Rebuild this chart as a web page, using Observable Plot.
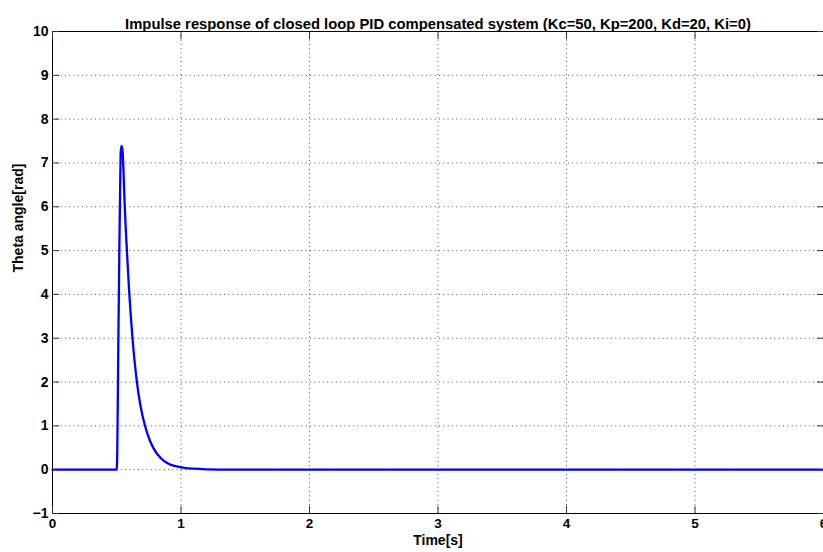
<!DOCTYPE html>
<html>
<head>
<meta charset="utf-8">
<script src="https://cdn.jsdelivr.net/npm/d3@7"></script>
<script src="https://cdn.jsdelivr.net/npm/@observablehq/plot@0.6"></script>
<style>
  html, body { margin: 0; padding: 0; background: #fff; }
  #chart { width: 823px; height: 552px; overflow: hidden; }
</style>
</head>
<body>
<div id="chart"></div>
<script>
const titleText = "Impulse response of closed loop PID compensated system (Kc=50, Kp=200, Kd=20, Ki=0)";
const xLabel = "Time[s]";
const yLabel = "Theta angle[rad]";
const xTicks = [0, 1, 2, 3, 4, 5, 6];
const yTicks = [-1, 0, 1, 2, 3, 4, 5, 6, 7, 8, 9, 10];

// time samples (s) and theta values (rad)
const time  = [0, 0.5, 0.515, 0.530, 0.537, 0.545, 0.552, 0.561, 0.570, 0.579, 0.595, 0.607, 0.621, 0.638, 0.657, 0.685, 0.722, 0.76, 0.79, 0.843, 0.9, 1.0, 1.1, 1.2, 1.4, 2.0, 3.0, 4.0, 5.0, 6.0];
const theta = [0, 0,   3.6,   7.2,   7.39,  7.28,  6.85,  6.1,   5.5,   5.0,   4.15,  3.6,   3.05,  2.5,   2.0,   1.45,  0.98,  0.65, 0.47, 0.26,  0.14, 0.055, 0.022, 0.009, 0.002, 0, 0, 0, 0, 0];

const data = time.map((t, i) => ({t, v: theta[i]}));

const chart = Plot.plot({
  width: 823,
  height: 552,
  marginLeft: 52,
  marginRight: 0,
  marginTop: 31,
  marginBottom: 39,
  style: {fontFamily: "'Liberation Sans', Arial, sans-serif", fontSize: "14px", fontWeight: "bold", background: "#fff", overflow: "visible"},
  x: {domain: [0, 6]},
  y: {domain: [-1, 10]},
  marks: [
    Plot.gridX(xTicks, {stroke: "#555", strokeOpacity: 1, strokeWidth: 1, strokeDasharray: "1,3.3"}),
    Plot.gridY(yTicks, {stroke: "#555", strokeOpacity: 1, strokeWidth: 1, strokeDasharray: "1,3.3"}),
    Plot.line(data, {x: "t", y: "v", stroke: "#0000ff", strokeWidth: 2.3, curve: "monotone-x"}),
    Plot.frame({stroke: "#000", strokeWidth: 1}),
    Plot.axisX(xTicks, {anchor: "bottom", tickSize: -7, text: null, label: null, stroke: "#333"}),
    Plot.axisX(xTicks, {anchor: "top", tickSize: -7, text: null, label: null, stroke: "#333"}),
    Plot.axisY(yTicks, {anchor: "left", tickSize: -7, text: null, label: null, stroke: "#333"}),
    Plot.axisY(yTicks, {anchor: "right", tickSize: -7, text: null, label: null, stroke: "#333"}),
    Plot.axisX(xTicks, {anchor: "bottom", tickSize: 0, tickPadding: 5, label: null, fill: "#000", tickFormat: d => String(d), fontSize: 13.5}),
    Plot.axisY(yTicks, {anchor: "left", tickSize: 0, tickPadding: 4, label: null, fill: "#000", tickFormat: d => (d < 0 ? "\u2212" + Math.abs(d) : String(d)), fontSize: 14}),
    Plot.text([titleText], {frameAnchor: "top", dy: -13, text: d => d, fill: "#000", fontSize: 14.8, fontWeight: "bold"}),
    Plot.text([xLabel], {frameAnchor: "bottom", dy: 31, text: d => d, fill: "#000", fontSize: 14, fontWeight: "bold"}),
    Plot.text([yLabel], {frameAnchor: "left", dx: -34, rotate: -90, text: d => d, fill: "#000", fontSize: 14, fontWeight: "bold"})
  ]
});
document.getElementById("chart").appendChild(chart);
</script>
</body>
</html>
